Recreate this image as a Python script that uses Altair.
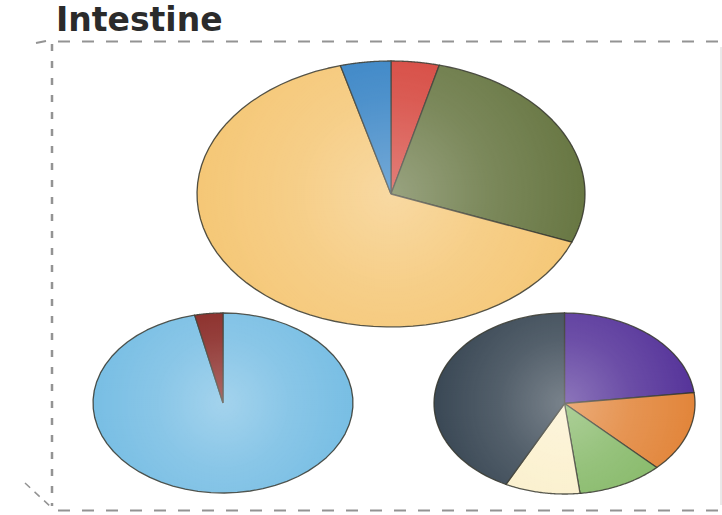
import altair as alt
import pandas as pd

# ---------------- data (share of each pie, clockwise from 12 o'clock) ----------------
top_slices = ["Red", "Olive", "Yellow", "Blue"]
top_values = [4.0, 26.9, 64.9, 4.2]

left_slices = ["Light blue", "Dark red"]
left_values = [96.5, 3.5]

right_slices = ["Purple", "Orange", "Green", "Cream", "Slate"]
right_values = [23.1, 14.4, 10.6, 9.3, 42.6]

title_text = "Intestine"

# ---------------- styles ----------------
top_colors = ["#d5433a", "#687743", "#f5c776", "#3381c4"]
left_colors = ["#78bee4", "#85221e"]
right_colors = ["#56349a", "#e2853a", "#86b968", "#fbf0cc", "#3a4855"]

# ---------------- layout (pie centres and radii, in pixels) ----------------
layout = {
    "top": dict(cx=391, cy=194, rx=194, ry=133),
    "left": dict(cx=223, cy=403, rx=130, ry=90),
    "right": dict(cx=564.5, cy=403.5, rx=130.5, ry=90.5),
}

W, H = 722, 515
N = 60   # arc segments per slice
M = 120  # segments for the shading ellipse

rows = []
for pie, names, vals in [("top", top_slices, top_values),
                         ("left", left_slices, left_values),
                         ("right", right_slices, right_values)]:
    for i, (n, v) in enumerate(zip(names, vals)):
        rows.append(dict(pie=pie, slice=n, uid=f"{pie}|{n}", idx=i, value=v))
df = pd.DataFrame(rows)

uids = [f"top|{n}" for n in top_slices] + [f"left|{n}" for n in left_slices] + \
       [f"right|{n}" for n in right_slices]
cols = top_colors + left_colors + right_colors

xs = alt.Scale(domain=[0, W], range=[0, W])
ys = alt.Scale(domain=[0, H], range=[0, H])

shade = {
    "gradient": "radial",
    "x1": 0.5, "y1": 0.5, "r1": 0,
    "x2": 0.5, "y2": 0.5, "r2": 0.5,
    "stops": [
        {"offset": 0, "color": "rgba(255,255,255,0.32)"},
        {"offset": 0.5, "color": "rgba(255,255,255,0.13)"},
        {"offset": 1, "color": "rgba(255,255,255,0)"},
    ],
}


def pie_layers(name):
    L = layout[name]
    cx, cy, rx, ry = L["cx"], L["cy"], L["rx"], L["ry"]
    slices = (
        alt.Chart(df)
        .transform_filter(alt.datum.pie == name)
        .transform_window(cum="sum(value)", sort=[alt.SortField("idx", order="ascending")],
                          frame=[None, 0])
        .transform_joinaggregate(total="sum(value)")
        .transform_calculate(
            a0="2*PI*(datum.cum - datum.value)/datum.total",
            a1="2*PI*datum.cum/datum.total",
            pts=f"sequence(0, {N + 3})",
        )
        .transform_flatten(["pts"], as_=["k"])
        .transform_calculate(
            edge=f"(datum.k == 0 || datum.k == {N + 2}) ? 0 : 1",
            t=f"datum.a0 + (datum.a1 - datum.a0) * (datum.k - 1) / {N}",
        )
        .transform_calculate(
            px=f"{cx} + datum.edge * {rx} * sin(datum.t)",
            py=f"{cy} - datum.edge * {ry} * cos(datum.t)",
        )
        .mark_line(stroke="#33342a", strokeWidth=1.3, strokeOpacity=0.85, strokeJoin="round")
        .encode(
            x=alt.X("px:Q", scale=xs, axis=None),
            y=alt.Y("py:Q", scale=ys, axis=None),
            order=alt.Order("k:Q"),
            detail="uid:N",
            fill=alt.Fill("uid:N", scale=alt.Scale(domain=uids, range=cols), legend=None),
        )
    )
    glow = (
        alt.Chart(df)
        .transform_filter(alt.datum.pie == name)
        .transform_aggregate(total="sum(value)", groupby=["pie"])
        .transform_calculate(pts=f"sequence(0, {M + 1})")
        .transform_flatten(["pts"], as_=["k"])
        .transform_calculate(t=f"2*PI*datum.k/{M}")
        .transform_calculate(
            px=f"{cx} + {rx} * sin(datum.t)",
            py=f"{cy} - {ry} * cos(datum.t)",
        )
        .mark_line(fill=shade, strokeOpacity=0, strokeWidth=0)
        .encode(
            x=alt.X("px:Q", scale=xs, axis=None),
            y=alt.Y("py:Q", scale=ys, axis=None),
            order=alt.Order("k:Q"),
        )
    )
    return [slices, glow]


one = pd.DataFrame({"label": [title_text]})
dash_col = "#939393"

top_line = alt.Chart(one).mark_rule(color=dash_col, strokeWidth=2, strokeDash=[12, 12]).encode(
    x=alt.value(58), x2=alt.value(W), y=alt.value(41.5))
top_corner = alt.Chart(one).mark_rule(color=dash_col, strokeWidth=2).encode(
    x=alt.value(36), x2=alt.value(46), y=alt.value(43), y2=alt.value(41))
left_line = alt.Chart(one).mark_rule(color=dash_col, strokeWidth=2.5, strokeDash=[7, 10]).encode(
    x=alt.value(52), y=alt.value(44), y2=alt.value(506))
bottom_line = alt.Chart(one).mark_rule(color=dash_col, strokeWidth=2, strokeDash=[12, 12]).encode(
    x=alt.value(58), x2=alt.value(W), y=alt.value(510.5))
diag_line = alt.Chart(one).mark_rule(color=dash_col, strokeWidth=1.5, strokeDash=[7, 6]).encode(
    x=alt.value(25), x2=alt.value(52), y=alt.value(483), y2=alt.value(508))
right_line = alt.Chart(one).mark_rule(color="#d4d4d4", strokeWidth=1).encode(
    x=alt.value(721), y=alt.value(47), y2=alt.value(505))

title = alt.Chart(one).mark_text(
    font="DejaVu Sans", fontWeight="bold", fontSize=33, align="left",
    baseline="alphabetic", color="#2b2b2b"
).encode(x=alt.value(56), y=alt.value(31), text="label:N")

layers = [top_line, top_corner, left_line, bottom_line, diag_line, right_line]
for p in ["top", "left", "right"]:
    layers += pie_layers(p)
layers.append(title)

chart = alt.layer(*layers).properties(
    width=W, height=H, padding=0, autosize="none"
).configure_view(strokeWidth=0).resolve_scale(fill="independent")

chart.save("out.html", embed_options={"renderer": "svg", "actions": False})
